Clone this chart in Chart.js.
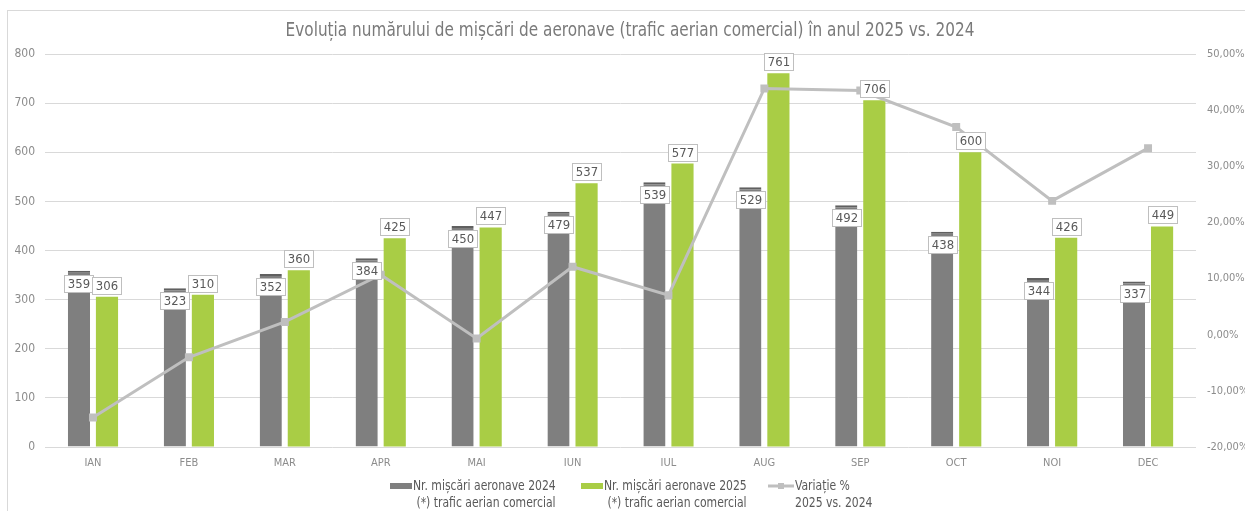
<!DOCTYPE html>
<html lang="ro">
<head>
    <meta charset="UTF-8">
    <script src="https://cdn.jsdelivr.net/npm/chart.js"></script>
    <title>Mișcări aeronave 2025 vs. 2024</title>
    <style>
        body {
            margin: 0;
            background: #fff;
            font-family: 'Liberation Sans Narrow', 'DejaVu Sans Condensed', sans-serif;
        }

        #wrap {
            position: relative;
            width: 1245px;
            height: 511px;
            overflow: hidden;
        }

        #frame {
            position: absolute;
            left: 7px;
            top: 10px;
            width: 1300px;
            height: 600px;
            border: 1px solid #d9d9d9;
        }

        #title {
            position: absolute;
            top: 17px;
            left: 0;
            width: 1260px;
            text-align: center;
            font-size: 20px;
            color: #7a7a7a;
            transform: scaleX(0.85);
        }

        #chart {
            position: absolute;
            left: 0;
            top: 0;
        }

        .legend-item {
            position: absolute;
            top: 477px;
            font-size: 14px;
            line-height: 17px;
            color: #595959;
            display: flex;
        }

        .legend-item .txt {
            transform: scaleX(0.86);
            transform-origin: left top;
            white-space: nowrap;
        }

        .swatch {
            width: 22px;
            height: 6px;
            margin-top: 6px;
            margin-right: 1px;
        }
    </style>
</head>
<body>
    <div id="wrap">
        <div id="frame"></div>
        <canvas id="chart" width="1245" height="511"></canvas>
        <div id="title">Evoluția numărului de mișcări de aeronave (trafic aerian comercial) în anul 2025 vs. 2024</div>

        <div class="legend-item" style="left:390px">
            <div class="swatch" style="background:#7f7f7f"></div>
            <div class="txt">Nr. mișcări aeronave 2024<br>&nbsp;(*) trafic aerian comercial</div>
        </div>
        <div class="legend-item" style="left:581px">
            <div class="swatch" style="background:#a9cd45"></div>
            <div class="txt">Nr. mișcări aeronave 2025<br>&nbsp;(*) trafic aerian comercial</div>
        </div>
        <div class="legend-item" style="left:768px">
            <svg width="26" height="17" style="margin-right:1px">
                <line x1="0" y1="9" x2="26" y2="9" stroke="#bfbfbf" stroke-width="3"></line>
                <rect x="10" y="6" width="6" height="6" fill="#bfbfbf"></rect>
            </svg>
            <div class="txt">Variație %<br>2025 vs. 2024</div>
        </div>
    </div>

<script>
    const FONT = "'Liberation Sans Narrow', 'DejaVu Sans Condensed', sans-serif";

    // data
    const months = ['IAN', 'FEB', 'MAR', 'APR', 'MAI', 'IUN', 'IUL', 'AUG', 'SEP', 'OCT', 'NOI', 'DEC'];
    const moves2024 = [359, 323, 352, 384, 450, 479, 539, 529, 492, 438, 344, 337];
    const moves2025 = [306, 310, 360, 425, 447, 537, 577, 761, 706, 600, 426, 449];
    const variation = [-14.76, -4.02, 2.27, 10.68, -0.67, 12.11, 7.05, 43.86, 43.50, 36.99, 23.84, 33.23];

    // boxed value labels: 2024 inside the bar top, 2025 above the bar
    const valueBoxes = {
        id: 'valueBoxes',
        afterDatasetsDraw(chart) {
            const ctx = chart.ctx;
            ctx.save();
            ctx.font = '13px ' + FONT;
            ctx.textAlign = 'center';
            ctx.textBaseline = 'middle';
            [0, 1].forEach(di => {
                const meta = chart.getDatasetMeta(di);
                meta.data.forEach((bar, i) => {
                    const txt = String(chart.data.datasets[di].data[i]);
                    const w = Math.round(ctx.measureText(txt).width + 7);
                    const h = 17;
                    let top = di === 0 ? bar.y + 4 : bar.y - 3 - h;
                    const left = Math.round(bar.x - w / 2) + 0.5;
                    top = Math.round(top) + 0.5;
                    ctx.fillStyle = '#fff';
                    ctx.fillRect(left, top, w, h);
                    ctx.strokeStyle = '#bfbfbf';
                    ctx.lineWidth = 1;
                    ctx.strokeRect(left, top, w, h);
                    ctx.fillStyle = '#595959';
                    ctx.fillText(txt, left + w / 2, top + h / 2 + 1);
                });
            });
            ctx.restore();
        }
    };

    new Chart(document.getElementById('chart'), {
        type: 'bar',
        data: {
            labels: months,
            datasets: [
                {
                    label: 'Nr. mișcări aeronave 2024',
                    data: moves2024,
                    backgroundColor: '#7f7f7f',
                    borderColor: '#606060',
                    borderWidth: {top: 2, left: 0, right: 0, bottom: 0},
                    borderSkipped: false,
                    categoryPercentage: 0.585,
                    barPercentage: 0.79,
                    yAxisID: 'y',
                    order: 1
                },
                {
                    label: 'Nr. mișcări aeronave 2025',
                    data: moves2025,
                    backgroundColor: '#a9cd45',
                    categoryPercentage: 0.585,
                    barPercentage: 0.79,
                    yAxisID: 'y',
                    order: 1
                },
                {
                    type: 'line',
                    label: 'Variație % 2025 vs. 2024',
                    data: variation,
                    borderColor: '#bfbfbf',
                    backgroundColor: '#bfbfbf',
                    borderWidth: 3,
                    pointStyle: 'rect',
                    pointRadius: 3.5,
                    tension: 0,
                    yAxisID: 'y1',
                    order: 0
                }
            ]
        },
        options: {
            responsive: false,
            animation: false,
            layout: {padding: {top: 54, bottom: 40, left: 0, right: 0}},
            plugins: {
                legend: {display: false},
                tooltip: {enabled: false}
            },
            scales: {
                x: {
                    offset: true,
                    grid: {display: false},
                    border: {display: false},
                    ticks: {color: '#8c8c8c', font: {family: FONT, size: 11}, padding: 2},
                    afterFit(scale) { scale.height = 24; }
                },
                y: {
                    position: 'left',
                    min: 0,
                    max: 800,
                    grid: {color: '#d9d9d9', drawTicks: false},
                    border: {display: false},
                    ticks: {stepSize: 100, color: '#8c8c8c', font: {family: FONT, size: 12}, padding: 10},
                    afterFit(scale) { scale.width = 45; }
                },
                y1: {
                    position: 'right',
                    min: -20,
                    max: 50,
                    grid: {display: false, drawTicks: false},
                    border: {display: false},
                    ticks: {
                        stepSize: 10,
                        color: '#8c8c8c',
                        font: {family: FONT, size: 11},
                        padding: 11,
                        callback: v => v.toFixed(2).replace('.', ',') + '%'
                    },
                    afterFit(scale) { scale.width = 49; }
                }
            }
        },
        plugins: [valueBoxes]
    });
</script>
</body>
</html>
